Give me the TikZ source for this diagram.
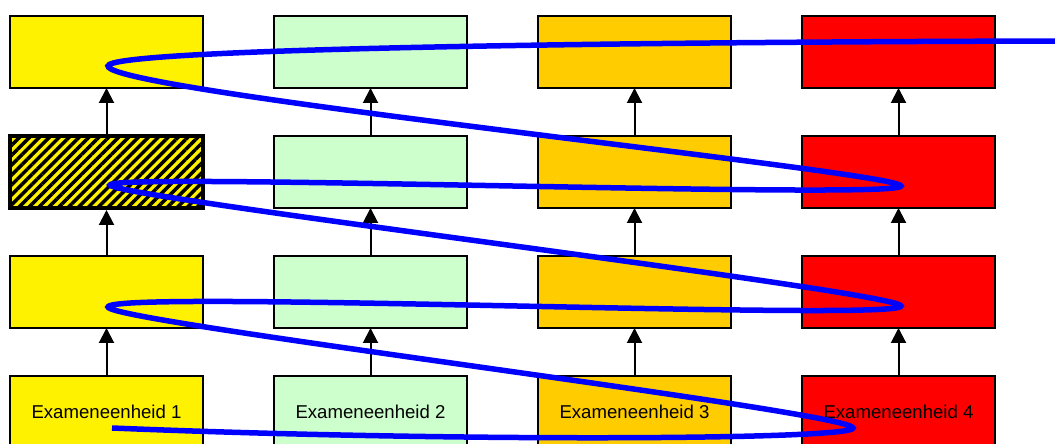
\documentclass[tikz,border=0pt]{standalone}
\usepackage{fontspec}
\setmainfont{Liberation Sans}
\usetikzlibrary{positioning,arrows.meta,patterns.meta}

\definecolor{lichtgroen}{HTML}{CCFFCC}
\definecolor{oranje}{HTML}{FFCC00}

\tikzset{
  eenheid/.style={draw, line width=1.5pt, minimum width=193pt, minimum height=72pt,
    inner sep=0pt, outer sep=0pt, font=\fontsize{18.6}{22}\selectfont},
  gearceerd/.style={line width=4pt,
    postaction={pattern={Lines[angle=45,distance=7pt,line width=3.5pt]}, pattern color=black}},
  pijl/.style={-{Triangle[width=15pt,length=15pt]}, line width=2pt},
  route/.style={draw=blue, line width=5.5pt}
}

\begin{document}
\begin{tikzpicture}[x=1pt, y=1pt, node distance=48pt and 71pt]
        \clip (0,0) rectangle (1055,444);
        % onderste rij: de exameneenheden
        \node[eenheid, fill=yellow] (e1) at (106.5,32) {Exameneenheid 1};
        \node[eenheid, fill=lichtgroen, right=of e1] (e2) {Exameneenheid 2};
        \node[eenheid, fill=oranje, right=of e2] (e3) {Exameneenheid 3};
        \node[eenheid, fill=red, right=of e3] (e4) {Exameneenheid 4};
        \node[eenheid, fill=yellow, above=of e1] (f1) {};
        \node[eenheid, fill=lichtgroen, above=of e2] (f2) {};
        \node[eenheid, fill=oranje, above=of e3] (f3) {};
        \node[eenheid, fill=red, above=of e4] (f4) {};
        \node[eenheid, fill=yellow, gearceerd, above=of f1] (g1) {};
        \node[eenheid, fill=lichtgroen, above=of f2] (g2) {};
        \node[eenheid, fill=oranje, above=of f3] (g3) {};
        \node[eenheid, fill=red, above=of f4] (g4) {};
        \node[eenheid, fill=yellow, above=of g1] (h1) {};
        \node[eenheid, fill=lichtgroen, above=of g2] (h2) {};
        \node[eenheid, fill=oranje, above=of g3] (h3) {};
        \node[eenheid, fill=red, above=of g4] (h4) {};
        \draw[pijl] (e1) -- (f1);
        \draw[pijl] (e2) -- (f2);
        \draw[pijl] (e3) -- (f3);
        \draw[pijl] (e4) -- (f4);
        \draw[pijl, shorten >=2pt] (f1) -- (g1);
        \draw[pijl] (f2) -- (g2);
        \draw[pijl] (f3) -- (g3);
        \draw[pijl] (f4) -- (g4);
        \draw[pijl, shorten <=2pt] (g1) -- (h1);
        \draw[pijl] (g2) -- (h2);
        \draw[pijl] (g3) -- (h3);
        \draw[pijl] (g4) -- (h4);
        % de blauwe route, van keerpunt naar keerpunt
        \coordinate (start) at (112,16);
        \coordinate (k4) at (853,16);
        \coordinate (l3) at (108,137);
        \coordinate (k3) at (901,138);
        \coordinate (l2) at (110,259);
        \coordinate (k2) at (901,258);
        \coordinate (l1) at (108,378);
        \coordinate (eind) at (1060,403);
        \draw[route] (start) .. controls (450,2) and (853,4) .. (k4)
            .. controls (853,32) and (108,122) .. (l3)
            .. controls (108,155) and (901,122) .. (k3)
            .. controls (901,152) and (110,247) .. (l2)
            .. controls (110,272) and (901,244) .. (k2)
            .. controls (901,272) and (108,352) .. (l1)
            .. controls (108,395) and (600,402) .. (eind);
    \end{tikzpicture}
\end{document}
